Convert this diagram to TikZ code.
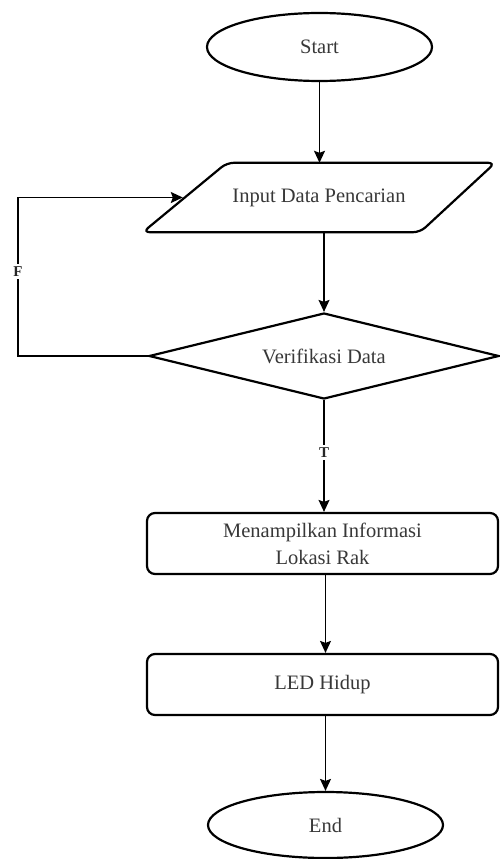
\documentclass[tikz,border=0pt]{standalone}
\usepackage{fontspec}
\setmainfont{Liberation Serif}
\usetikzlibrary{shapes.geometric,arrows.meta}
\begin{document}
\begin{tikzpicture}[x=1pt,y=-1pt,
  txt/.style={inner sep=0pt, font=\fontsize{20.5}{27}\selectfont, text=black!78},
  shp/.style={txt, draw=black, line width=2.2pt, fill=white},
  term/.style={shp, ellipse, minimum width=225pt, minimum height=68pt},
  iobox/.style={txt, rectangle, minimum width=352pt, minimum height=69pt},
  iopath/.style={draw=black, line width=2.2pt, fill=white, rounded corners=7pt},
  decision/.style={shp, diamond, aspect=4, minimum width=350pt, minimum height=86pt},
  proc/.style={shp, rectangle, rounded corners=8pt, minimum width=351pt, minimum height=61pt, align=center},
  conn/.style={line width=1.5pt, -{Stealth[length=12pt,width=11pt,inset=2pt]}},
  lbl/.style={fill=white, inner sep=2.5pt, text=black!85, font=\fontsize{15}{15}\selectfont\bfseries}
]
\fill[white] (0,0) rectangle (499,859);
\useasboundingbox (0,0) rectangle (499,859);

\node[term] (start) at (319.5,47) {Start};
\node[iobox] (input) at (319,197.5) {};
\draw[iopath] (input.south west) -- ([xshift=84pt]input.north west) -- (input.north east) -- ([xshift=-75pt]input.south east) -- cycle;
\node[txt] (inputtext) at (input.center) {Input Data Pencarian};
\coordinate (inputleft) at ([xshift=40pt]input.west);
\node[decision] (verif) at (324,356) {Verifikasi Data};
\node[proc] (show) at (322.5,543.5) {Menampilkan Informasi\\Lokasi Rak};
\node[proc] (led) at (322.5,684.5) {LED Hidup};
\node[term, minimum width=235pt, minimum height=66pt] (end) at (325.5,825) {End};
\coordinate (loopx) at (18,357);

\draw[conn] (start.south) -- (start.south |- input.north);
\draw[conn] (verif.north |- input.south) -- (verif.north);
\draw[conn] (verif.south) -- node[lbl, pos=0.465] {T} (verif.south |- show.north);
\draw[conn] (end.north |- show.south) -- (end.north |- led.north);
\draw[conn] (end.north |- led.south) -- (end.north);
\draw[conn] (verif.west) -- (verif.west -| loopx) -- node[lbl, pos=0.535] {F} (inputleft -| loopx) -- (inputleft);
\end{tikzpicture}
\end{document}
